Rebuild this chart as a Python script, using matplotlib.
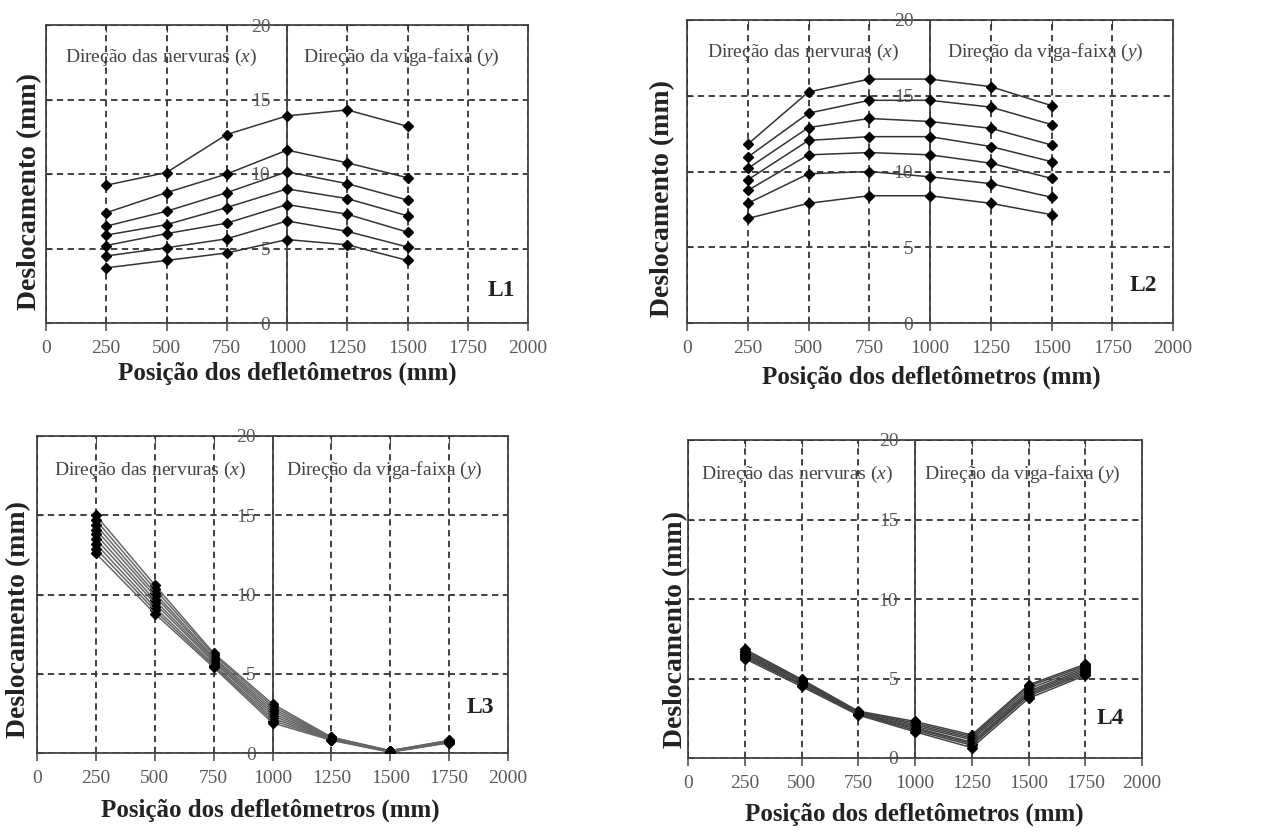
import matplotlib
matplotlib.use("Agg")
import matplotlib.pyplot as plt

plt.rcParams['font.family'] = ['Liberation Serif', 'DejaVu Serif']
plt.rcParams['mathtext.fontset'] = 'custom'
plt.rcParams['mathtext.rm'] = 'Liberation Serif'
plt.rcParams['mathtext.it'] = 'Liberation Serif:italic'

# posições dos defletômetros (mm)
x_L1 = [250, 500, 750, 1000, 1250, 1500]
x_L2 = [250, 500, 750, 1000, 1250, 1500]
x_L3 = [250, 500, 750, 1000, 1250, 1500, 1750]
x_L4 = [250, 500, 750, 1000, 1250, 1500, 1750]

# deslocamentos (mm), uma lista por etapa de carga
y_L1 = [
    [9.25, 10.1, 12.65, 13.9, 14.3, 13.2],
    [7.4, 8.75, 10.0, 11.6, 10.75, 9.75],
    [6.5, 7.5, 8.75, 10.15, 9.35, 8.25],
    [5.9, 6.6, 7.75, 9.0, 8.35, 7.2],
    [5.2, 6.0, 6.7, 7.95, 7.3, 6.1],
    [4.5, 5.05, 5.65, 6.85, 6.15, 5.1],
    [3.7, 4.2, 4.7, 5.6, 5.25, 4.2],
]
y_L2 = [
    [11.8, 15.25, 16.1, 16.1, 15.6, 14.35],
    [10.95, 13.85, 14.7, 14.7, 14.25, 13.1],
    [10.2, 12.9, 13.5, 13.3, 12.85, 11.75],
    [9.45, 12.05, 12.3, 12.3, 11.65, 10.65],
    [8.75, 11.1, 11.25, 11.1, 10.55, 9.55],
    [7.9, 9.85, 10.0, 9.65, 9.2, 8.3],
    [6.9, 7.9, 8.4, 8.4, 7.9, 7.15],
]
y_L3 = [
    [15.0, 10.6, 6.3, 3.1, 1.0, 0.15, 0.8],
    [14.7, 10.35, 6.2, 2.95, 0.98, 0.14, 0.78],
    [14.4, 10.1, 6.05, 2.8, 0.95, 0.13, 0.76],
    [14.1, 9.9, 5.95, 2.65, 0.93, 0.12, 0.74],
    [13.8, 9.65, 5.85, 2.5, 0.9, 0.1, 0.72],
    [13.5, 9.45, 5.75, 2.35, 0.88, 0.09, 0.7],
    [13.2, 9.2, 5.6, 2.2, 0.85, 0.08, 0.68],
    [12.9, 9.0, 5.5, 2.05, 0.83, 0.07, 0.66],
    [12.6, 8.8, 5.4, 1.9, 0.8, 0.05, 0.64],
]
y_L4 = [
    [6.85, 4.95, 2.95, 2.3, 1.45, 4.6, 5.9],
    [6.75, 4.9, 2.9, 2.2, 1.35, 4.5, 5.8],
    [6.65, 4.85, 2.9, 2.1, 1.25, 4.35, 5.7],
    [6.55, 4.8, 2.85, 2.0, 1.15, 4.2, 5.6],
    [6.5, 4.7, 2.8, 1.9, 1.0, 4.1, 5.5],
    [6.4, 4.65, 2.8, 1.85, 0.9, 4.0, 5.4],
    [6.35, 4.6, 2.75, 1.75, 0.8, 3.9, 5.3],
    [6.25, 4.5, 2.7, 1.65, 0.65, 3.75, 5.2],
]

names = ['L1', 'L2', 'L3', 'L4']
xs = [x_L1, x_L2, x_L3, x_L4]
ys = [y_L1, y_L2, y_L3, y_L4]

# caixas dos eixos em pixels: esquerda, topo, direita, base
boxes = [(46, 25, 528, 323), (687, 20, 1173, 323), (37, 436, 508, 753), (688, 440, 1142, 758)]
ylab_pos = [(-0.008, 0.44), (-0.025, 0.41), (-0.012, 0.42), (0.0, 0.405)]
xlab_pos = [(0.5, -0.13), (0.502, -0.14), (0.495, -0.145), (0.498, -0.14)]
tag_pos = [(1888, 2.2), (1877, 2.5), (1881, 2.85), (1859, 2.5)]
line_col = ['#333333', '#333333', '#666666', '#444444']

W, H = 1278, 836
fig = plt.figure(figsize=(W / 100, H / 100), dpi=100)

grey = '#5a5a5a'
for i in range(4):
    l, t, r, b = boxes[i]
    ax = fig.add_axes([l / W, (H - b) / H, (r - l) / W, (b - t) / H])
    ax.set_xlim(0, 2000)
    ax.set_ylim(0, 20)
    ax.set_xticks(range(0, 2001, 250))
    ax.set_yticks(range(0, 21, 5))
    ax.grid(True, color='#333333', linestyle=(0, (3.5, 2.5)), linewidth=1.3)

    ax.spines['left'].set_position(('data', 1000))
    ax.spines['top'].set_visible(False)
    for s in ['left', 'right', 'bottom']:
        ax.spines[s].set_color('#444444')
        ax.spines[s].set_linewidth(1.3)
    ax.tick_params(axis='x', direction='out', length=6, width=1.2, color='#555555',
                   labelsize=14, labelcolor=grey, pad=6)
    ax.tick_params(axis='y', length=0, labelsize=14, labelcolor=grey, pad=12)

    # borda esquerda e superior com marcas internas
    sy = ax.secondary_yaxis(0.0)
    sy.set_yticks(range(0, 21, 5))
    sy.tick_params(direction='in', length=4, color='#444444', labelleft=False)
    sy.spines['left'].set_color('#444444')
    sy.spines['left'].set_linewidth(1.3)
    sx = ax.secondary_xaxis('top')
    sx.set_xticks(range(0, 2001, 250))
    sx.tick_params(direction='in', length=5, color='#444444', labeltop=False)
    sx.spines['top'].set_color('#444444')
    sx.spines['top'].set_linewidth(1.3)

    for serie in ys[i]:
        ax.plot(xs[i], serie, color=line_col[i], linewidth=1.1, marker='D',
                markersize=5.5, markerfacecolor='black', markeredgecolor='black', zorder=3)

    ax.text(480, 17.85, r'Direção das nervuras ($\mathit{x}$)', ha='center', va='center',
            fontsize=14, color='#444444')
    ax.text(1475, 17.85, r'Direção da viga-faixa ($\mathit{y}$)', ha='center', va='center',
            fontsize=14, color='#444444')
    ax.text(tag_pos[i][0], tag_pos[i][1], names[i], ha='center', va='center',
            fontsize=17, fontweight='bold', color='#222222')

    ax.set_xlabel('Posição dos defletômetros (mm)', fontsize=18, fontweight='bold', color='#222222')
    ax.set_ylabel('Deslocamento (mm)', fontsize=20, fontweight='bold', color='#222222')
    ax.xaxis.set_label_coords(*xlab_pos[i])
    ax.yaxis.set_label_coords(*ylab_pos[i])

fig.savefig('out.png', dpi=100)
